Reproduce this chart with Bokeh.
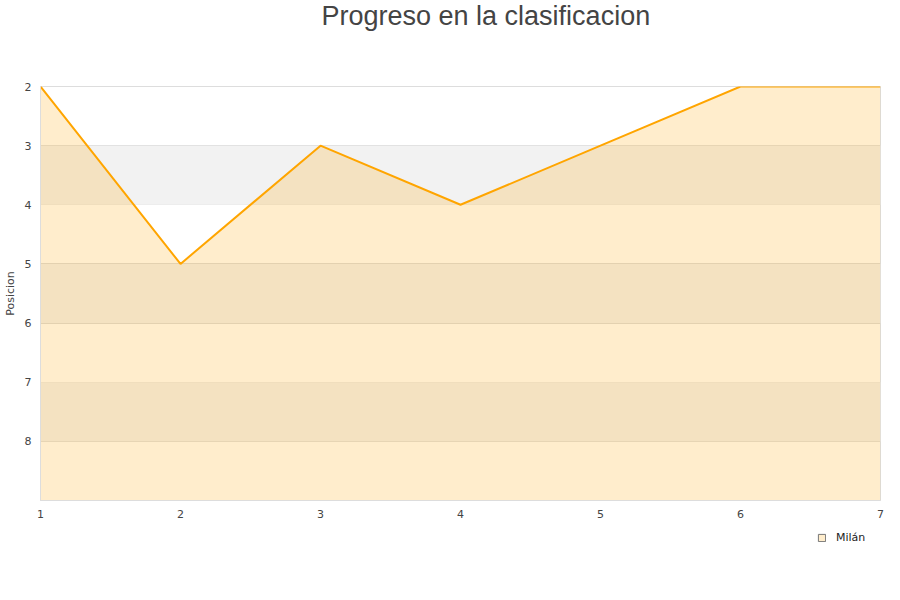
from bokeh.plotting import figure
from bokeh.models import (Range1d, FixedTicker, BoxAnnotation, Legend, LegendItem,
                          ColumnDataSource)
from bokeh.layouts import column
from bokeh.embed import file_html
from bokeh.resources import INLINE

jornadas = [1, 2, 3, 4, 5, 6, 7]
milan = [2, 5, 3, 4, 3, 2, 2]
y_ticks = [2, 3, 4, 5, 6, 7, 8]
bands = [(3, 4), (5, 6), (7, 8)]
series_name = "Milán"
chart_title = "Progreso en la clasificacion"

src = ColumnDataSource(dict(x=jornadas, y=milan, base=[9] * len(jornadas)))


def blank_strip(frame_h):
    f = figure(width=900, frame_height=frame_h, output_backend="svg", toolbar_location=None,
               x_range=Range1d(0, 1), y_range=Range1d(0, 1),
               x_axis_location=None, y_axis_location=None,
               min_border_left=0, min_border_right=0, min_border_top=0, min_border_bottom=0)
    f.outline_line_color = None
    f.xgrid.visible = False
    f.ygrid.visible = False
    f.background_fill_color = "white"
    f.border_fill_color = "white"
    return f


# title strip
tf = blank_strip(44)
tf.title.text = chart_title
tf.title.align = "left"
tf.title.offset = 281
tf.title.vertical_align = "top"
tf.title.text_font = "Liberation Sans"
tf.title.text_font_size = "27px"
tf.title.text_font_style = "normal"
tf.title.text_color = "#444444"
tf.title.standoff = 0

# main chart
p = figure(width=900, frame_width=840, frame_height=414,
           output_backend="svg", toolbar_location=None,
           x_range=Range1d(1, 7), y_range=Range1d(9, 2),
           min_border_left=40, min_border_right=20, min_border_bottom=31, min_border_top=10)

main_x = p.below[0]
main_y = p.left[0]

p.outline_line_color = "#dddddd"
p.background_fill_color = "white"
p.border_fill_color = "white"

for b0, b1 in bands:
    p.add_layout(BoxAnnotation(top=b0, bottom=b1, fill_color="#f2f2f2", fill_alpha=1,
                               line_color=None, level="underlay"))

p.xgrid.visible = False
p.ygrid.ticker = FixedTicker(ticks=y_ticks)
p.ygrid.grid_line_color = "#dddddd"

p.varea(x="x", y1="y", y2="base", source=src, fill_color="orange", fill_alpha=0.2)
p.line(x="x", y="y", source=src, line_color="orange", line_width=2)

for ax in (main_x, main_y):
    ax.axis_line_color = "#dddddd"
    ax.major_tick_line_color = None
    ax.minor_tick_line_color = None
    ax.major_tick_out = 0
    ax.major_tick_in = 0
    ax.minor_tick_out = 0
    ax.minor_tick_in = 0
    ax.major_label_text_font = "DejaVu Sans"
    ax.major_label_text_font_size = "11px"
    ax.major_label_text_color = "#444444"

main_x.ticker = FixedTicker(ticks=jornadas)
main_y.ticker = FixedTicker(ticks=y_ticks)
main_y.axis_label = "Posicion"
main_y.axis_label_text_font = "DejaVu Sans"
main_y.axis_label_text_font_size = "11px"
main_y.axis_label_text_font_style = "normal"
main_y.axis_label_text_color = "#444444"
main_y.axis_label_standoff = 5
main_y.major_label_standoff = 9
main_x.major_label_standoff = 9

# legend strip under the chart; proxy glyph lies outside the strip's visible range
lf = blank_strip(30)
proxy = ColumnDataSource(dict(l=[-3], r=[-2], t=[-2], b=[-3]))
leg_r = lf.quad(left="l", right="r", top="t", bottom="b", source=proxy,
                fill_color="#ffedcc", line_color="#777777", line_width=1)
legend = Legend(items=[LegendItem(label=series_name, renderers=[leg_r])],
                location="top_right", background_fill_alpha=0, border_line_color=None,
                label_text_font="DejaVu Sans", label_text_font_size="11px",
                label_text_color="#222222", label_width=44,
                glyph_width=9, glyph_height=9, padding=5, margin=0, label_standoff=10)
lf.add_layout(legend)

layout = column(tf, p, lf, spacing=0)
open("out.html", "w").write(file_html(layout, INLINE))
